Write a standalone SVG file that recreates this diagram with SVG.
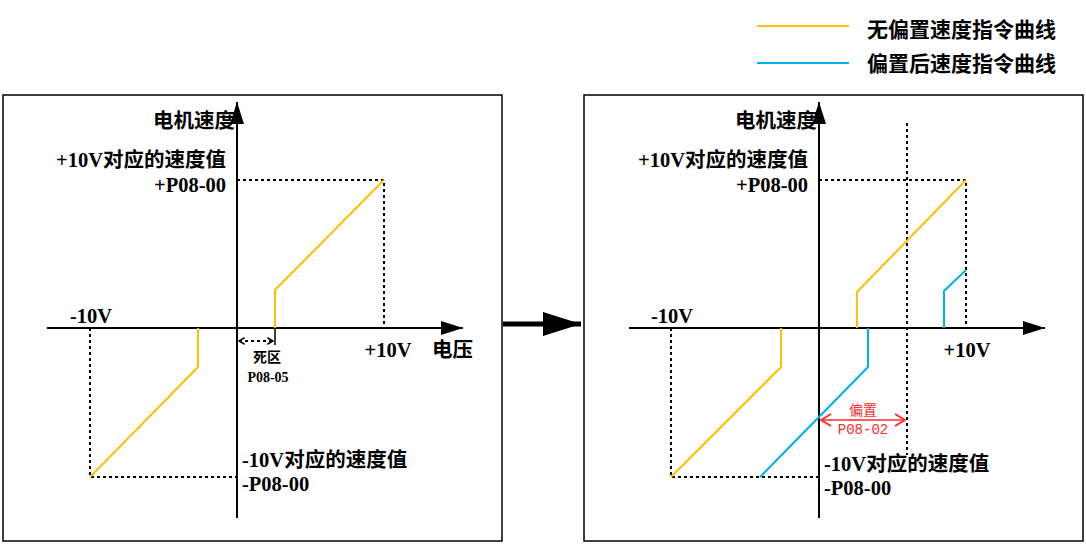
<svg xmlns="http://www.w3.org/2000/svg" width="1086" height="544" viewBox="0 0 1086 544">
<defs>
<style>
.t{font-family:"Liberation Serif","Noto Sans CJK SC",serif;font-weight:bold;fill:#000}
.big{font-size:20.5px}
.leg{font-size:21px}
.sm{font-size:14px}
.red{font-family:"Liberation Mono","Noto Sans CJK SC",monospace;font-size:14px;fill:#ff2a2a}
.panel{fill:#fff;stroke:#000;stroke-width:1.5}
.axis{stroke:#000;stroke-width:2;fill:none}
.dash{stroke:#000;stroke-width:2;stroke-dasharray:3 3;fill:none}
.y{stroke:#FFC000;stroke-width:2;fill:none}
.b{stroke:#00B0F0;stroke-width:2;fill:none}
</style>
<marker id="ah" viewBox="0 0 10 10" refX="10" refY="5" markerWidth="22" markerHeight="14" markerUnits="userSpaceOnUse" orient="auto" preserveAspectRatio="none"><path d="M0,0 L10,5 L0,10 Z" fill="#000"/></marker>
<marker id="open" viewBox="0 0 10 10" refX="9" refY="5" markerWidth="7" markerHeight="8" markerUnits="userSpaceOnUse" orient="auto-start-reverse" preserveAspectRatio="none"><path d="M1,1 L9,5 L1,9" fill="none" stroke="#000" stroke-width="2"/></marker>
<marker id="redh" viewBox="0 0 12 14" refX="11" refY="7" markerWidth="12" markerHeight="14" markerUnits="userSpaceOnUse" orient="auto-start-reverse"><path d="M1,1 L11,7 L1,13" fill="none" stroke="#ff2a2a" stroke-width="2"/></marker>
<marker id="bigah" viewBox="0 0 10 10" refX="10" refY="5" markerWidth="38" markerHeight="24" markerUnits="userSpaceOnUse" orient="auto" preserveAspectRatio="none"><path d="M0,0 L10,5 L0,10 Z" fill="#000"/></marker>
</defs>
<rect width="1086" height="544" fill="#fff"/>

<g id="legend">
<line x1="757" y1="26" x2="849" y2="26" class="y"/>
<line x1="757" y1="63" x2="849" y2="63" class="b"/>
<text x="867" y="37" class="t leg">无偏置速度指令曲线</text>
<text x="867" y="71" class="t leg">偏置后速度指令曲线</text>
</g>

<g id="panel-left">
<rect x="3" y="95" width="499" height="446" class="panel"/>
<line x1="237" y1="518" x2="237" y2="102" class="axis" marker-end="url(#ah)"/>
<line x1="47" y1="328" x2="463" y2="328" class="axis" marker-end="url(#ah)"/>
<polyline points="237,180 384,180 384,328" class="dash"/>
<polyline points="90,328 90,477 237,477" class="dash"/>
<polyline points="275,328 275,290 384,180" class="y"/>
<polyline points="198,328 198,367 90,477" class="y"/>
<line x1="275" y1="328" x2="275" y2="345" stroke="#000" stroke-width="1.5"/>
<line x1="239" y1="341" x2="273" y2="341" class="dash" stroke-width="1.5" marker-start="url(#open)" marker-end="url(#open)"/>
<text x="235" y="128" class="t big" text-anchor="end">电机速度</text>
<text x="226" y="167" class="t big" text-anchor="end">+10V对应的速度值</text>
<text x="226" y="192" class="t big" text-anchor="end">+P08-00</text>
<text x="91" y="323" class="t big" text-anchor="middle">-10V</text>
<text x="388" y="357" class="t big" text-anchor="middle">+10V</text>
<text x="432" y="357" class="t big">电压</text>
<text x="267" y="362" class="t sm" text-anchor="middle">死区</text>
<text x="268" y="382" class="t sm" text-anchor="middle">P08-05</text>
<text x="242" y="467" class="t big">-10V对应的速度值</text>
<text x="242" y="491" class="t big">-P08-00</text>
</g>

<g id="connectors">
<line x1="503" y1="324" x2="581" y2="324" stroke="#000" stroke-width="5" marker-end="url(#bigah)"/>
</g>

<g id="panel-right">
<rect x="584" y="95" width="499" height="446" class="panel"/>
<line x1="819" y1="518" x2="819" y2="102" class="axis" marker-end="url(#ah)"/>
<line x1="629" y1="328" x2="1045" y2="328" class="axis" marker-end="url(#ah)"/>
<polyline points="819,180 966,180 966,328" class="dash"/>
<line x1="907" y1="123" x2="907" y2="455" class="dash"/>
<polyline points="671,328 671,477 819,477" class="dash"/>
<polyline points="857,328 857,292 966,180" class="y"/>
<polyline points="781,328 781,367 671,477" class="y"/>
<polyline points="944,328 944,291 966,270" class="b"/>
<polyline points="868,328 868,367 760,477" class="b"/>
<line x1="821" y1="420" x2="905" y2="420" stroke="#ff2a2a" stroke-width="1.5" marker-start="url(#redh)" marker-end="url(#redh)"/>
<text x="817" y="128" class="t big" text-anchor="end">电机速度</text>
<text x="808" y="167" class="t big" text-anchor="end">+10V对应的速度值</text>
<text x="808" y="192" class="t big" text-anchor="end">+P08-00</text>
<text x="672" y="323" class="t big" text-anchor="middle">-10V</text>
<text x="967" y="357" class="t big" text-anchor="middle">+10V</text>
<text x="863" y="415" class="red" text-anchor="middle">偏置</text>
<text x="863" y="434" class="red" text-anchor="middle">P08-02</text>
<text x="824" y="471" class="t big">-10V对应的速度值</text>
<text x="824" y="495" class="t big">-P08-00</text>
</g>
</svg>
